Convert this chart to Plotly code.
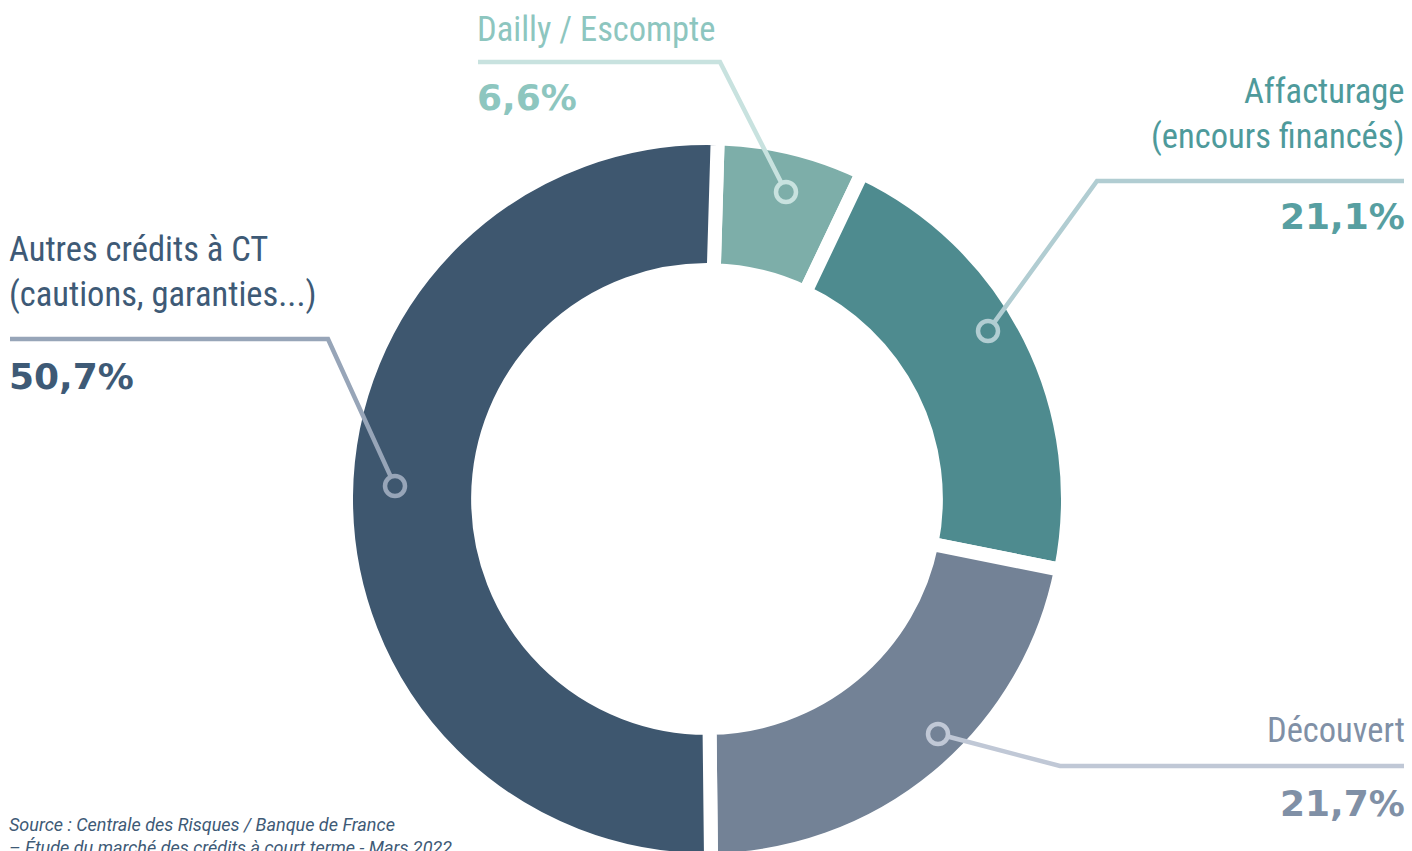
import plotly.graph_objects as go

# ---- data ----
labels = ["Dailly / Escompte", "Affacturage<br>(encours financés)", "Découvert",
          "Autres crédits à CT<br>(cautions, garanties...)"]
values = [6.6, 21.1, 21.7, 50.7]
source_lines = ["Source : Centrale des Risques / Banque de France",
                "– Étude du marché des crédits à court terme - Mars 2022"]

# ---- styles ----
W, H = 1412, 866
slice_colors = ["#7DAEA9", "#4E8B8F", "#738296", "#3E576F"]
label_colors = ["#8DC6BF", "#4E9A9B", "#8090A6", "#3E5A76"]
pct_colors = ["#8DC6BF", "#579FA1", "#8090A6", "#3E5A76"]
line_colors = ["#C8E2DF", "#B1CDD2", "#C0C8D6", "#97A5B8"]
LABEL_FONT = ("Roboto Condensed, Liberation Sans Narrow, Arial Narrow, "
              "DejaVu Sans Condensed, sans-serif")
SOURCE_FONT = "Roboto, Liberation Sans, sans-serif"
PCT_FONT = "DejaVu Sans, Arial Black, sans-serif"

cx, cy, R = 707, 499, 361   # pie centre / outer radius in pixels (incl. gap stroke)
GAP = 14

layout_pos = [
    dict(anchor="left", x=478, ly=29, py=97,
         path=[(478, 62), (720, 62)], circle=(786, 192)),
    dict(anchor="right", x=1404, ly=113.5, py=217,
         path=[(1404, 181), (1097, 181)], circle=(988, 331)),
    dict(anchor="right", x=1404, ly=730, py=803,
         path=[(1404, 766), (1060, 766)], circle=(938, 734)),
    dict(anchor="left", x=10, ly=272, py=376,
         path=[(10, 339), (328, 339)], circle=(395, 486)),
]


def px(x):
    return x / W


def py(y):
    return 1 - y / H


fig = go.Figure()
fig.add_trace(go.Pie(
    labels=labels, values=values, sort=False, direction="clockwise",
    rotation=1.7, hole=0.634, textinfo="none", hoverinfo="skip", showlegend=False,
    marker=dict(colors=slice_colors, line=dict(color="white", width=GAP)),
    domain=dict(x=[px(cx - R), px(cx + R)], y=[py(cy + R), py(cy - R)]),
))

shapes = []
annotations = []
CR = 10
PAD = 3
for i, (lab, val) in enumerate(zip(labels, values)):
    p = layout_pos[i]
    (x0, y0), (x1, y1) = p["path"]
    ccx, ccy = p["circle"]
    dx, dy = ccx - x1, ccy - y1
    d = (dx * dx + dy * dy) ** 0.5
    ex, ey = ccx - dx / d * CR, ccy - dy / d * CR
    path = "M {} {} L {} {} L {} {}".format(px(x0), py(y0), px(x1), py(y1), px(ex), py(ey))
    shapes.append(dict(type="path", path=path, xref="paper", yref="paper",
                       line=dict(color=line_colors[i], width=4.5), layer="above"))
    shapes.append(dict(type="circle", xref="paper", yref="paper",
                       x0=px(ccx - CR), x1=px(ccx + CR), y0=py(ccy + CR), y1=py(ccy - CR),
                       line=dict(color=line_colors[i], width=4.5), layer="above"))
    tx = p["x"] - PAD if p["anchor"] == "left" else p["x"] + PAD
    annotations.append(dict(
        text=lab, x=px(tx), y=py(p["ly"]), xref="paper", yref="paper",
        xanchor=p["anchor"], yanchor="middle", align=p["anchor"], showarrow=False,
        font=dict(family=LABEL_FONT, size=34.5, color=label_colors[i])))
    annotations.append(dict(
        text=f"{val:.1f}".replace(".", ",") + "%", x=px(tx), y=py(p["py"]),
        xref="paper", yref="paper", xanchor=p["anchor"], yanchor="middle",
        showarrow=False,
        font=dict(family=PCT_FONT, size=36, color=pct_colors[i], weight="bold")))

annotations.append(dict(
    text="<br>".join(source_lines), x=px(10 - PAD), y=py(812), xref="paper", yref="paper",
    xanchor="left", yanchor="top", align="left", showarrow=False,
    font=dict(family=SOURCE_FONT, size=18, color="#3E5A76", style="italic")))

fig.update_layout(
    width=W, height=H, margin=dict(l=0, r=0, t=0, b=0),
    paper_bgcolor="white", plot_bgcolor="white",
    shapes=shapes, annotations=annotations,
)

fig.write_html("out.html", config={"displayModeBar": False}, post_script=(
    "document.documentElement.style.margin='0';document.body.style.margin='0';"
    "document.documentElement.style.overflow='hidden';document.body.style.overflow='hidden';"))
